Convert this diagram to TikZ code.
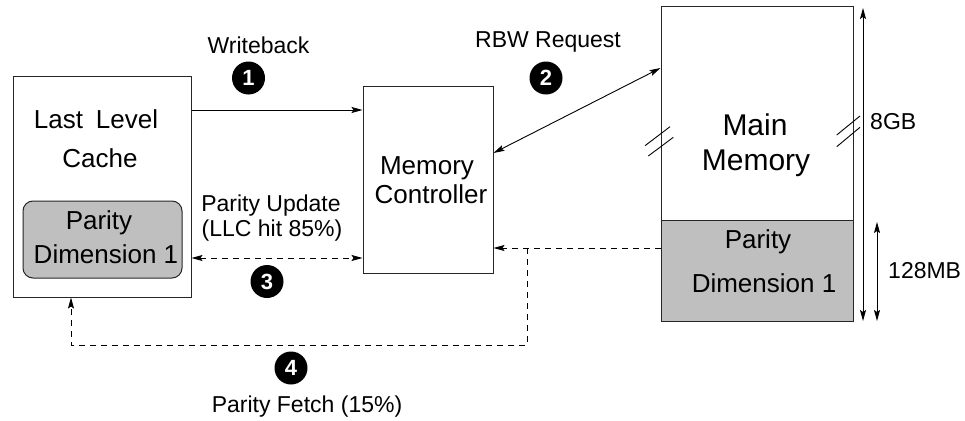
\documentclass[tikz,border=0pt]{standalone}
\usepackage{fontspec}
\setmainfont{Liberation Sans}
\usetikzlibrary{arrows.meta}
\begin{document}
\begin{tikzpicture}[x=1pt,y=-1pt,
  box/.style={draw=black!85, line width=1pt, inner sep=0pt},
  graybox/.style={box, fill=black!25},
  lbl/.style={anchor=base, inner sep=0pt, font=\fontsize{23}{27}\selectfont},
  btxt/.style={anchor=base, inner sep=0pt, font=\fontsize{26}{30}\selectfont},
  ctxt/.style={anchor=base, inner sep=0pt, font=\fontsize{26}{30}\selectfont},
  mtxt/.style={anchor=base, inner sep=0pt, font=\fontsize{30}{34}\selectfont},
  num/.style={circle, fill=black, minimum size=33pt, inner sep=0pt, text=white, font=\fontsize{22}{24}\selectfont\bfseries},
  conn/.style={line width=0.9pt, black},
  tip/.style={-{Stealth[length=11pt,width=6pt,inset=2pt]}},
  tips/.style={{Stealth[length=11pt,width=6pt,inset=2pt]}-{Stealth[length=11pt,width=6pt,inset=2pt]}},
  dsh/.style={dash pattern=on 6pt off 5pt}
]
\useasboundingbox (0,0) rectangle (965,420);

% boxes
\node[box, minimum width=178pt, minimum height=221pt] (llc) at (102,186.5) {};
\node[graybox, rounded corners=10pt, minimum width=159pt, minimum height=77pt] (llcpar) at (102.5,239.5) {};
\node[box, minimum width=130pt, minimum height=187pt] (mc) at (428,179.5) {};
\node[box, minimum width=192pt, minimum height=213pt] (mm) at (757,113.5) {};
\node[graybox, minimum width=192pt, minimum height=101pt] (mmpar) at (757,270.5) {};

% texts
\node[btxt] (t1) at (96,128) {Last\hspace{0.5em}Level};
\node[btxt] (t2) at (100,167) {Cache};
\node[btxt] (t3) at (99,229) {Parity};
\node[btxt] (t4) at (106,263) {Dimension 1};
\node[ctxt] (t5) at (427,174) {Memory};
\node[ctxt] (t6) at (431,203) {Controller};
\node[mtxt] (t7) at (755,135) {Main};
\node[mtxt] (t8) at (756,170) {Memory};
\node[btxt] (t9) at (758,248) {Parity};
\node[btxt] (t10) at (764,292) {Dimension 1};
\node[lbl] (l1) at (258.5,53) {Writeback};
\node[lbl] (l2) at (548,48) {RBW Request};
\node[lbl] (l3) at (271,211) {Parity Update};
\node[lbl] (l4) at (272,236) {(LLC hit 85\%)};
\node[lbl] (l5) at (307,412) {Parity Fetch (15\%)};
\node[lbl, anchor=base west] (l6) at (870,129) {8GB};
\node[lbl, anchor=base west] (l7) at (888,278) {128MB};

% numbers
\node[num] (n1) at (248.5,78) {1};
\node[num] (n2) at (546,78) {2};
\node[num] (n3) at (267,281.5) {3};
\node[num] (n4) at (291,368) {4};

% helper coordinates
\coordinate (ywb) at (0,110);
\coordinate (yr1) at (0,153);
\coordinate (yr2) at (0,68);
\coordinate (ypu) at (0,258);
\coordinate (ypf) at (0,248);
\coordinate (jn) at (527,248);
\coordinate (bl) at (71,345);
\coordinate (br) at (527,345);
\coordinate (g1) at (863,8);
\coordinate (g2) at (863,321);
\coordinate (m1) at (877,222);
\coordinate (m2) at (877,321);

% connectors
\draw[conn, tip] (llc.east |- ywb) -- (mc.west |- ywb);
\draw[conn, tips] (mc.east |- yr1) -- (mm.west |- yr2);
\draw[conn, dsh, tips] (llc.east |- ypu) -- (mc.west |- ypu);
\draw[conn, dsh, tip] (mmpar.west |- ypf) -- (mc.east |- ypf);
\draw[conn, dsh, tip] (jn) -- (br) -- (bl) -- (llc.south -| bl);
\draw[conn, tips] (g1) -- (g2);
\draw[conn, tips] (m1) -- (m2);

% break marks
\draw[conn] (645,145.7) -- (670,126.7);
\draw[conn] (648.3,156) -- (673.3,137.3);
\draw[conn] (836.7,135) -- (860,116);
\draw[conn] (836.7,146.7) -- (860,127.3);
\end{tikzpicture}
\end{document}
